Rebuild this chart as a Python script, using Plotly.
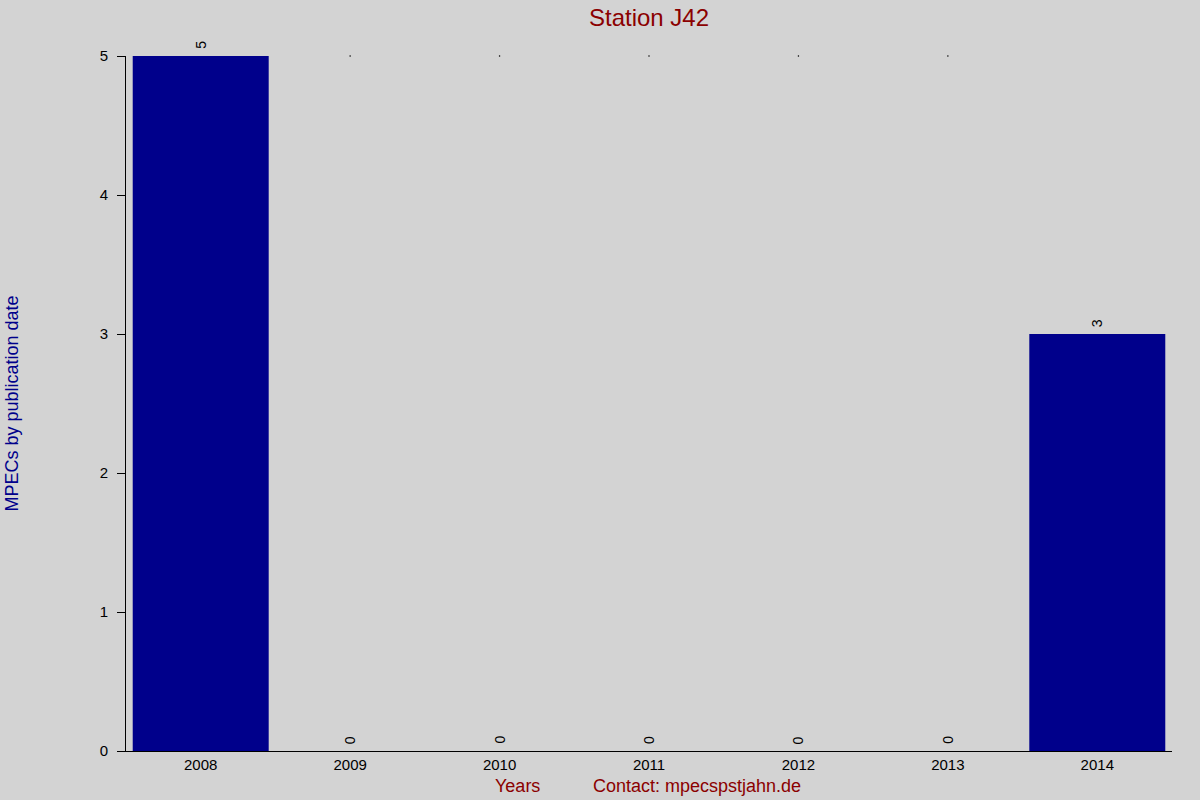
import plotly.graph_objects as go

# MPECs per year for station J42
years = ["2008", "2009", "2010", "2011", "2012", "2013", "2014"]
counts = [5, 0, 0, 0, 0, 0, 3]

title_text = "Station J42"
x_label = "Years"
contact = "Contact: mpecspstjahn.de"
y_label = "MPECs by publication date"

W, H = 1200, 800
plot_left, plot_right = 126, 1172


def px_to_paper(px):
    return (px - plot_left) / (plot_right - plot_left)


fig = go.Figure()
fig.add_trace(go.Bar(
    x=years, y=counts,
    marker=dict(color="#00008B", line=dict(width=0)),
    showlegend=False,
))

# the little dots at the top of the empty years
zero_years = [y for y, c in zip(years, counts) if c == 0]
fig.add_trace(go.Scatter(
    x=zero_years, y=[max(counts)] * len(zero_years),
    mode="markers", marker=dict(color="black", size=1.5),
    showlegend=False, hoverinfo="skip", cliponaxis=False,
))

# value labels, rotated, just above each bar (category axis -> index positions)
for i, c in enumerate(counts):
    fig.add_annotation(x=i, y=c, text=str(c), textangle=-90, showarrow=False,
                       yshift=11, font=dict(size=14, color="black"))

fig.update_layout(
    width=W, height=H,
    paper_bgcolor="#D3D3D3", plot_bgcolor="#D3D3D3",
    font=dict(family="Liberation Sans, Arial, sans-serif", size=15, color="black"),
    margin=dict(l=plot_left, r=W - plot_right, t=56, b=H - 751),
    bargap=0.09,
    title=dict(text=title_text, x=px_to_paper(649), xref="paper", xanchor="center",
               y=1 - 18 / H, yanchor="middle",
               font=dict(size=24, color="#8B0000")),
    xaxis=dict(type="category", range=[-0.5, 6.5], showgrid=False,
               showline=True, linecolor="black", linewidth=1,
               ticks="", ticklabelstandoff=0, zeroline=False),
    yaxis=dict(range=[0, 5], tickvals=[0, 1, 2, 3, 4, 5], showgrid=False,
               showline=True, linecolor="black", linewidth=1,
               ticks="outside", ticklen=8, tickcolor="black",
               ticklabelstandoff=6, zeroline=False),
)

fig.add_annotation(text=x_label, x=px_to_paper(517), xref="paper", xanchor="center",
                   y=0, yref="paper", yshift=-35, yanchor="middle", showarrow=False,
                   font=dict(size=18, color="#8B0000"))
fig.add_annotation(text=contact, x=px_to_paper(697), xref="paper", xanchor="center",
                   y=0, yref="paper", yshift=-35, yanchor="middle", showarrow=False,
                   font=dict(size=18, color="#8B0000"))
fig.add_annotation(text=y_label, x=px_to_paper(11), xref="paper", xanchor="center",
                   y=0.5, yref="paper", yanchor="middle", textangle=-90, showarrow=False,
                   font=dict(size=18, color="#00008B"))

# drop the default 8px page margin so the figure fills the window
fig.write_html("out.html", config={"displayModeBar": False},
               post_script="document.body.style.margin='0';")
